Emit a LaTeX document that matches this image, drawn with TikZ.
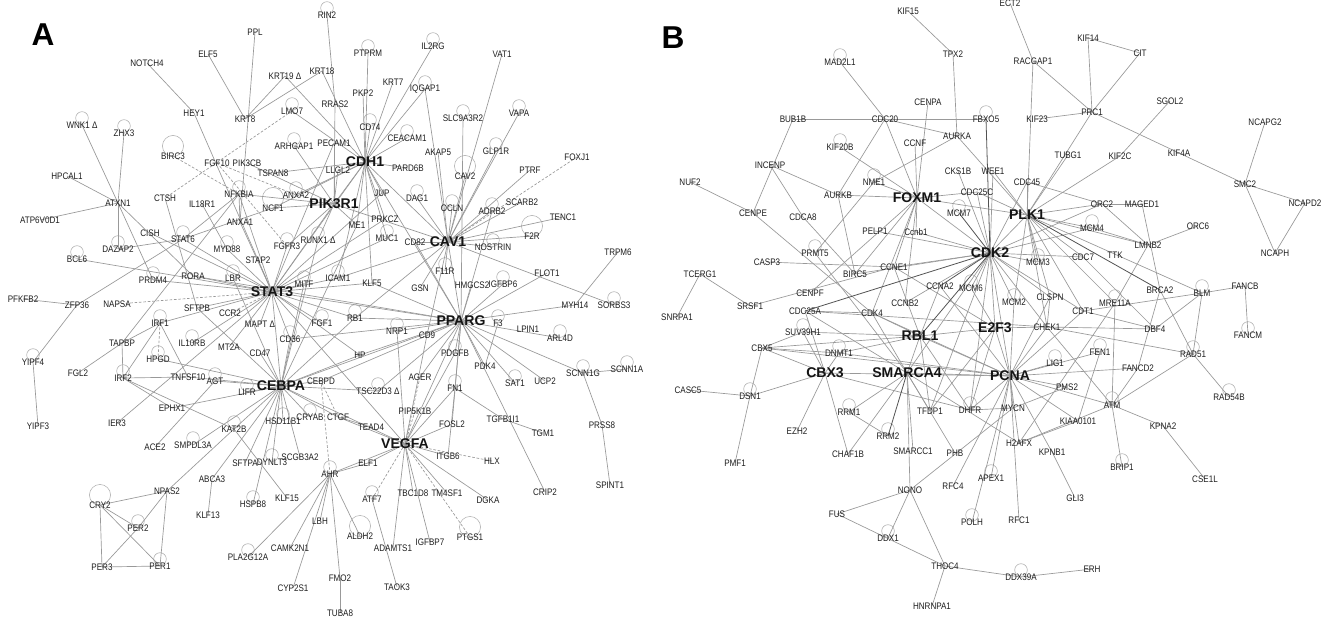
\documentclass[tikz,border=0pt]{standalone}
\usepackage{fontspec}
\newfontfamily\labfont{Liberation Sans}[FakeStretch=0.85]
\newfontfamily\hubfont{Liberation Sans}
\pgfdeclarelayer{bg}
\pgfsetlayers{bg,main}
\tikzset{
 g/.style={font=\labfont\fontsize{5.4}{6}\selectfont, text=black!88, inner sep=0.5pt},
 h/.style={font=\hubfont\bfseries\fontsize{8}{9}\selectfont, text=black!92, inner sep=0.5pt},
 pl/.style={font=\hubfont\bfseries\fontsize{18}{20}\selectfont, inner sep=0pt},
 e/.style={draw=black!40, line width=0.38pt},
 ed/.style={e, dash pattern=on 1.5pt off 1pt},
 ek/.style={draw=black!68, line width=0.45pt},
 lp/.style={draw=black!32, line width=0.3pt},
}
\begin{document}
\begin{tikzpicture}[x=0.02cm,y=-0.02cm]
\useasboundingbox (0,0) rectangle (1331,619);
% panel letters
\node[pl] (LA) at (43,35) {A};
\node[pl] (LB) at (673,38) {B};
% ---------------- Panel A nodes ----------------
\foreach \n/\x/\y/\t in {
RIN2/327/15/RIN2, PPL/255/32/PPL, ELF5/208/54/ELF5, NOTCH4/147/63/NOTCH4,
KRT19/285/76/KRT19 Δ, KRT18/322/71/KRT18, HEY1/194/113/HEY1, KRT8/245/119/KRT8,
LMO7/292/111/LMO7, RRAS2/335/104/RRAS2, WNK1/82/125/WNK1 Δ, ZHX3/124/133/ZHX3,
BIRC3/173/156/BIRC3, ARHGAP1/294/146/ARHGAP1, PECAM1/334/143/PECAM1, HPCAL1/67/176/HPCAL1,
FGF10/217/163/FGF10, PIK3CB/247/163/PIK3CB, TSPAN8/273/173/TSPAN8, LLGL2/338/170/LLGL2,
CTSH/165/198/CTSH, IL18R1/202/204/IL18R1, NFKBIA/239/194/NFKBIA, NCF1/273/208/NCF1,
ANXA2/296/195/ANXA2, ATXN1/118/203/ATXN1, ATP6V0D1/40/220/ATP6V0D1, ANXA1/240/222/ANXA1,
CISH/150/233/CISH, STAT6/183/239/STAT6, DAZAP2/118/249/DAZAP2, MYD88/227/249/MYD88,
STAP2/258/260/STAP2, RUNX1/318/240/RUNX1 Δ, FGFR3/287/246/FGFR3, BCL6/77/259/BCL6,
PRDM4/153/280/PRDM4, RORA/193/276/RORA, LBR/233/278/LBR, MITF/304/284/MITF,
ICAM1/338/278/ICAM1, KLF5/372/283/KLF5, PFKFB2/23/299/PFKFB2, ZFP36/77/305/ZFP36,
NAPSA/117/304/NAPSA, SFTPB/197/308/SFTPB, CCR2/230/313/CCR2, PTPRM/368/53/PTPRM,
IL2RG/433/46/IL2RG, VAT1/502/54/VAT1, KRT7/393/82/KRT7, PKP2/363/93/PKP2,
IQGAP1/425/89/IQGAP1, VAPA/519/113/VAPA, SLC9A3R2/463/118/SLC9A3R2, CD74/370/127/CD74,
CEACAM1/407/138/CEACAM1, AKAP5/438/152/AKAP5, GLP1R/496/151/GLP1R, FOXJ1/577/157/FOXJ1,
PARD6B/408/168/PARD6B, PTRF/530/170/PTRF, CAV2/465/176/CAV2, JUP/382/193/JUP,
DAG1/417/198/DAG1, SCARB2/522/202/SCARB2, OCLN/452/208/OCLN, ADRB2/492/211/ADRB2,
TENC1/563/217/TENC1, PRKCZ/385/219/PRKCZ, ME1/357/225/ME1, F2R/532/236/F2R,
CD82/415/242/CD82, MUC1/387/238/MUC1, NOSTRIN/493/247/NOSTRIN, TRPM6/618/252/TRPM6,
F11R/445/271/F11R, FLOT1/547/273/FLOT1, GSN/420/288/GSN, HMGCS2/472/285/HMGCS2,
IGFBP6/503/284/IGFBP6, MYH14/575/305/MYH14, SORBS3/614/305/SORBS3, RB1/355/318/RB1,
F3/498/323/F3, LPIN1/528/329/LPIN1, ARL4D/560/338/ARL4D, NRP1/397/331/NRP1,
CD9/427/335/CD9, HP/360/355/HP, PDGFB/455/353/PDGFB, PDK4/485/366/PDK4,
SCNN1G/583/373/SCNN1G, SCNN1A/627/369/SCNN1A, AGER/420/377/AGER, SAT1/515/383/SAT1,
UCP2/545/381/UCP2, FN1/455/388/FN1, TSC22D3/378/391/TSC22D3 Δ, PIP5K1B/415/411/PIP5K1B,
CTGF/338/417/CTGF, TEAD4/371/427/TEAD4, FOSL2/452/424/FOSL2, TGFB1I1/503/419/TGFB1I1,
TGM1/543/433/TGM1, PRSS8/602/425/PRSS8, ITGB6/448/456/ITGB6, HLX/492/461/HLX,
ELF1/368/463/ELF1, SPINT1/610/485/SPINT1, CRIP2/545/492/CRIP2, ATF7/372/499/ATF7,
TBC1D8/413/493/TBC1D8, TM4SF1/447/493/TM4SF1, DGKA/488/500/DGKA, ALDH2/360/536/ALDH2,
PTGS1/470/537/PTGS1, IGFBP7/430/542/IGFBP7, ADAMTS1/393/548/ADAMTS1, FMO2/340/578/FMO2,
TAOK3/397/587/TAOK3, TUBA8/340/613/TUBA8, AHR/330/474/AHR, IRF1/160/323/IRF1,
MAPT/260/324/MAPT Δ, FGF1/322/323/FGF1, TAPBP/122/343/TAPBP, IL10RB/192/343/IL10RB,
MT2A/229/347/MT2A, CD36/290/339/CD36, CD47/260/353/CD47, YIPF4/33/362/YIPF4,
HPGD/158/359/HPGD, FGL2/78/373/FGL2, IRF2/123/378/IRF2, TNFSF10/188/377/TNFSF10,
AGT/215/381/AGT, CEBPD/321/381/CEBPD, LIFR/247/392/LIFR, EPHX1/172/408/EPHX1,
IER3/117/423/IER3, YIPF3/38/426/YIPF3, HSD11B1/283/421/HSD11B1, CRYAB/310/417/CRYAB,
KAT2B/234/429/KAT2B, ACE2/155/447/ACE2, SMPDL3A/193/445/SMPDL3A, SFTPA/245/463/SFTPA,
DYNLT3/272/462/DYNLT3, SCGB3A2/300/457/SCGB3A2, ABCA3/212/479/ABCA3, NPAS2/167/491/NPAS2,
CRY2/100/505/CRY2, KLF15/287/498/KLF15, HSPB8/253/504/HSPB8, KLF13/208/515/KLF13,
LBH/320/521/LBH, PER2/138/528/PER2, CAMK2N1/290/548/CAMK2N1, PLA2G12A/248/557/PLA2G12A,
PER3/102/567/PER3, PER1/160/566/PER1, CYP2S1/293/588/CYP2S1}
  \node[g] (\n) at (\x,\y) {\t};
\foreach \n/\x/\y in {CDH1/365/162, PIK3R1/334/204, CAV1/448/242, STAT3/272/292,
PPARG/461/321, CEBPA/281/386, VEGFA/405/444}
  \node[h] (\n) at (\x,\y) {\n};
% ---------------- Panel B nodes ----------------
\foreach \n/\x/\y/\t in {
KIF15/908/11/KIF15, TPX2/953/54/TPX2, MAD2L1/840/62/MAD2L1, CENPA/928/102/CENPA,
BUB1B/793/119/BUB1B, CDC20/885/119/CDC20, FBXO5/986/119/FBXO5, AURKA/957/136/AURKA,
KIF20B/840/147/KIF20B, CCNF/915/143/CCNF, INCENP/770/165/INCENP, CKS1B/958/171/CKS1B,
WEE1/993/171/WEE1, NUF2/690/182/NUF2, NME1/874/182/NME1, AURKB/838/195/AURKB,
CDC25C/977/192/CDC25C, CENPE/753/213/CENPE, CDCA8/803/217/CDCA8, MCM7/959/213/MCM7,
PELP1/875/231/PELP1, Ccnb1/916/232/Ccnb1, PRMT5/815/253/PRMT5, CASP3/767/262/CASP3,
BIRC5/855/274/BIRC5, CCNE1/894/267/CCNE1, TCERG1/700/274/TCERG1, CCNA2/940/286/CCNA2,
MCM6/971/288/MCM6, CENPF/810/293/CENPF, SRSF1/750/306/SRSF1, CCNB2/905/303/CCNB2,
CDC25A/805/311/CDC25A, CDK4/872/313/CDK4, SNRPA1/677/317/SNRPA1, ECT2/1010/3/ECT2,
KIF14/1088/38/KIF14, CIT/1140/53/CIT, RACGAP1/1033/61/RACGAP1, SGOL2/1170/101/SGOL2,
PRC1/1092/112/PRC1, KIF23/1037/119/KIF23, NCAPG2/1265/122/NCAPG2, TUBG1/1068/155/TUBG1,
KIF2C/1120/156/KIF2C, KIF4A/1179/153/KIF4A, CDC45/1027/182/CDC45, SMC2/1245/184/SMC2,
ORC2/1102/204/ORC2, MAGED1/1142/204/MAGED1, NCAPD2/1305/203/NCAPD2, ORC6/1198/226/ORC6,
MCM4/1092/228/MCM4, LMNB2/1148/245/LMNB2, NCAPH/1275/253/NCAPH, MCM3/1038/262/MCM3,
CDC7/1083/257/CDC7, TTK/1115/255/TTK, FANCB/1245/286/FANCB, BRCA2/1160/290/BRCA2,
BLM/1202/293/BLM, MCM2/1014/302/MCM2, CLSPN/1050/297/CLSPN, MRE11A/1115/303/MRE11A,
CDT1/1083/311/CDT1, CHEK1/1047/327/CHEK1, DBF4/1155/329/DBF4, FANCM/1248/335/FANCM,
FEN1/1100/352/FEN1, RAD51/1193/354/RAD51, LIG1/1055/363/LIG1, FANCD2/1138/368/FANCD2,
PMS2/1067/387/PMS2, RAD54B/1229/397/RAD54B, ATM/1112/405/ATM, MYCN/1013/408/MYCN,
KIAA0101/1078/421/KIAA0101, KPNA2/1163/426/KPNA2, H2AFX/1019/443/H2AFX, KPNB1/1052/452/KPNB1,
BRIP1/1122/467/BRIP1, APEX1/991/478/APEX1, CSE1L/1205/479/CSE1L, GLI3/1075/498/GLI3,
RFC1/1019/520/RFC1, ERH/1092/569/ERH, DDX39A/1021/577/DDX39A, SUV39H1/803/332/SUV39H1,
CBX5/762/348/CBX5, DNMT1/839/353/DNMT1, CASC5/688/390/CASC5, DSN1/750/396/DSN1,
RRM1/849/412/RRM1, TFDP1/930/411/TFDP1, DHFR/970/410/DHFR, EZH2/797/431/EZH2,
RRM2/888/436/RRM2, CHAF1B/848/454/CHAF1B, SMARCC1/913/451/SMARCC1, PHB/955/453/PHB,
PMF1/735/463/PMF1, RFC4/953/486/RFC4, NONO/910/490/NONO, FUS/837/514/FUS,
POLH/972/522/POLH, DDX1/888/538/DDX1, THOC4/945/566/THOC4, HNRNPA1/932/606/HNRNPA1}
  \node[g] (\n) at (\x,\y) {\t};
\foreach \n/\x/\y in {FOXM1/917/198, PLK1/1027/215, CDK2/990/253, RBL1/920/336,
E2F3/995/328, CBX3/825/373, SMARCA4/907/373, PCNA/1010/376}
  \node[h] (\n) at (\x,\y) {\n};
% ---------------- connectors ----------------
\begin{pgfonlayer}{bg}
\fill[white] (LA.center) ++(-43,-35) rectangle ++(1331,619);
% self loops
\foreach \n in {RIN2, ZHX3, WNK1, DAZAP2, BCL6, PRDM4, LBR, NFKBIA, STAT6, MYD88, ANXA2, LMO7,
ARHGAP1, CD74, IQGAP1, CEACAM1, SLC9A3R2, VAPA, IL2RG, PTPRM, GLP1R, DAG1, OCLN, ADRB2,
NOSTRIN, SORBS3, F11R, MUC1, ICAM1, FGFR3, RUNX1, MITF, IGFBP6, F3, ARL4D, SAT1, SCNN1G,
SCNN1A, FN1, NRP1, PDGFB, TSC22D3, ATF7, AHR, IRF1, IRF2, HPGD, LIFR, AGT, HSD11B1,
CRYAB, DYNLT3, SMPDL3A, KAT2B, HSPB8, PER2, PER1, YIPF4, PLA2G12A, FGF1, RB1, CD36, IL10RB,
MAD2L1, KIF20B, FBXO5, NME1, PRMT5, MCM7, MCM6, MCM2, MCM4, MCM3, SUV39H1, DNMT1, DSN1,
RRM1, RRM2, DHFR, POLH, APEX1, DDX1, DDX39A, LIG1, FEN1, ATM, MRE11A, BLM, RAD51, RAD54B,
FANCM, BRIP1}
  \draw[lp] (\n.center) ++(0,-7) circle[radius=3.6pt];
\foreach \n in {BIRC3, NCF1, F2R, CRY2, ALDH2, PTGS1, CAV2}
  \draw[lp] (\n.center) ++(0,-10) circle[radius=6pt];
% panel A solid
\foreach \a/\b in {RIN2/RRAS2, RRAS2/PIK3R1, PPL/ANXA1, ELF5/KRT8, KRT8/KRT18, KRT8/KRT19,
KRT19/CDH1, KRT18/CDH1, NOTCH4/HEY1, HEY1/STAT3, LMO7/CDH1, WNK1/ATXN1, ZHX3/ATXN1,
ATXN1/DAZAP2, HPCAL1/ATXN1, ATP6V0D1/ATXN1, ATXN1/PRDM4, ATXN1/RORA, BCL6/STAT3,
PFKFB2/ZFP36, ZFP36/YIPF4, YIPF4/YIPF3, ZFP36/STAT6, DAZAP2/STAT6, CISH/STAT3, STAT6/NFKBIA,
STAT6/STAT3, CTSH/SFTPB, IL18R1/MYD88, NFKBIA/STAT3, NFKBIA/ANXA1, NFKBIA/PIK3R1,
PIK3CB/PIK3R1, TSPAN8/CDH1, ARHGAP1/PIK3R1, PECAM1/PIK3R1, PECAM1/STAT3, LLGL2/CDH1,
LLGL2/PIK3R1, NCF1/STAT6, NCF1/PIK3R1, ANXA2/CDH1, ANXA1/STAT3, MYD88/STAT3, STAP2/STAT3,
RUNX1/CEBPA, RUNX1/PIK3R1, FGFR3/STAT3, FGFR3/PIK3R1, PRDM4/STAT3, RORA/STAT3, RORA/PPARG,
LBR/CEBPA, MITF/STAT3, MITF/CEBPA, ICAM1/STAT3, ICAM1/CAV1, ICAM1/CDH1, KLF5/PPARG,
KLF5/CDH1, SFTPB/STAT3, SFTPB/CEBPA, IRF1/STAT3, IRF1/TAPBP, IRF1/IRF2, IRF1/TNFSF10,
TAPBP/IRF2, FGL2/TAPBP, TAPBP/NFKBIA, IRF2/TNFSF10, IRF2/KAT2B, IL10RB/STAT3, HPGD/CEBPA,
MT2A/STAT3, MAPT/STAT3, CD36/PPARG, CD36/CEBPA, CD47/CEBPA, FGF1/STAT3, RB1/CEBPA,
RB1/STAT3, RB1/PPARG, RB1/CAV1, NRP1/VEGFA, NRP1/PPARG, CD9/VEGFA, CD9/CAV1, HP/CEBPA,
HP/STAT3, HP/PPARG, AGER/PPARG, PDGFB/PPARG, PDGFB/VEGFA, TSC22D3/CEBPA, TSC22D3/PPARG,
FN1/VEGFA, FN1/PPARG, FN1/TGFB1I1, FN1/ITGB6, FOSL2/VEGFA, FOSL2/PPARG, TGFB1I1/TGM1,
PDK4/PPARG, SAT1/PPARG, UCP2/PPARG, SCNN1G/PPARG, SCNN1G/SCNN1A, SCNN1G/PRSS8,
PRSS8/SPINT1, F3/PDK4, PPARG/ARL4D, MYH14/PPARG, MYH14/TRPM6, CAV1/SORBS3, FLOT1/PPARG,
CRIP2/PPARG, ITGB6/VEGFA, DGKA/VEGFA, TM4SF1/VEGFA, TBC1D8/VEGFA, IGFBP7/VEGFA,
ADAMTS1/VEGFA, ATF7/TAOK3, ELF1/VEGFA, ELF1/AHR, ALDH2/AHR, AHR/FMO2, FMO2/TUBA8, AHR/LBH,
AHR/CYP2S1, AHR/PLA2G12A, AHR/CAMK2N1, AHR/VEGFA, CTGF/VEGFA, CTGF/CEBPA, TEAD4/CTGF,
KAT2B/KLF15, KAT2B/CEBPA, KAT2B/NPAS2, ABCA3/KLF13, ABCA3/CEBPA, HSPB8/CEBPA, SFTPA/CEBPA,
DYNLT3/CEBPA, SCGB3A2/CEBPA, HSD11B1/CEBPA, CRYAB/CEBPA, ACE2/AGT, EPHX1/IRF2, EPHX1/CEBPA,
IER3/STAT3, AGT/CEBPA, LIFR/CEBPA, TNFSF10/CEBPA, CEBPD/CEBPA, CEBPD/PPARG, NPAS2/CRY2,
NPAS2/PER2, NPAS2/PER1, CRY2/PER2, CRY2/PER1, CRY2/PER3, PER3/PER1, PER3/PER2,
PTPRM/CDH1, PKP2/CDH1, KRT7/CDH1, IL2RG/CDH1, IQGAP1/CDH1, IQGAP1/CAV1, CD74/CDH1,
CEACAM1/CDH1, AKAP5/CAV1, PARD6B/CDH1, JUP/CDH1, DAG1/CAV1, PRKCZ/CDH1, ME1/PIK3R1,
ME1/CDH1, MUC1/CDH1, CD82/CAV1, VAT1/CAV1, SLC9A3R2/PPARG, VAPA/CAV1, GLP1R/CAV1,
PTRF/CAV1, CAV2/CAV1, SCARB2/CAV1, ADRB2/CAV1, ADRB2/PPARG, OCLN/CAV1, TENC1/CAV1,
F2R/CAV1, NOSTRIN/CAV1, F11R/CAV1, GSN/CAV1, HMGCS2/PPARG, IGFBP6/PPARG, PIK3R1/CDH1,
PIK3R1/STAT3, PIK3R1/CAV1, CDH1/CAV1, STAT3/CEBPA, STAT3/PPARG, CEBPA/PPARG, VEGFA/PPARG,
VEGFA/CEBPA, VEGFA/STAT3, CAV1/PPARG, CDH1/STAT3, CDH1/PPARG, PRKCZ/STAT3, MUC1/STAT3,
NCF1/CDH1, JUP/STAT3, ME1/CEBPA, KLF5/STAT3, CD82/PPARG, CD36/STAT3, SMPDL3A/CEBPA}
  \draw[e] (\a.center) -- (\b.center);
% panel A dashed
\foreach \a/\b in {LMO7/CTSH, BIRC3/NFKBIA, FGF10/ANXA2, FOXJ1/CAV1, HLX/VEGFA, PTGS1/VEGFA,
ATF7/VEGFA, AHR/CEBPD, PIP5K1B/VEGFA, AGER/VEGFA, NAPSA/STAT3, CCR2/STAT3, IRF1/HPGD,
FGF10/FGFR3, CTGF/CEBPD}
  \draw[ed] (\a.center) -- (\b.center);
% panel B solid
\foreach \a/\b in {KIF15/TPX2, TPX2/AURKA, ECT2/RACGAP1, RACGAP1/PRC1, KIF14/CIT, KIF14/PRC1,
CIT/PRC1, RACGAP1/PLK1, KIF23/PRC1, PRC1/PLK1, PRC1/KIF4A, KIF4A/SMC2, SGOL2/KIF2C,
KIF2C/PLK1, TUBG1/PLK1, NCAPG2/SMC2, SMC2/NCAPD2, SMC2/NCAPH, NCAPD2/NCAPH, CDC45/PLK1,
CDC45/ORC2, CDC45/CDK2, ORC2/MAGED1, PLK1/ORC2, ORC2/LMNB2, MAGED1/BRCA2, ORC6/LMNB2,
LMNB2/MCM4, LMNB2/PLK1, LMNB2/MRE11A, PLK1/BLM, BLM/FANCB, FANCB/FANCM, BLM/RAD51, BLM/DBF4,
BLM/CDT1, WEE1/CDK2, CKS1B/CDK2, CDC25C/CDK2, CDC25C/PLK1, WEE1/PLK1, MAD2L1/CDC20,
CDC20/FOXM1, BUB1B/CDC20, CDC20/FBXO5, BUB1B/CENPE, CDC20/AURKA, CDC20/AURKB,
CENPA/FOXM1, AURKA/NME1, AURKA/PLK1, KIF20B/FOXM1, CCNF/FOXM1, INCENP/AURKB, INCENP/CDCA8,
CDCA8/BIRC5, NUF2/CENPE, CENPE/CDK4, AURKB/FOXM1, AURKB/BIRC5, NME1/PRMT5, NME1/FOXM1,
FOXM1/Ccnb1, FOXM1/CCNE1, FOXM1/PLK1, FOXM1/CDK4, FOXM1/BIRC5, FOXM1/CCNB2, FOXM1/CDC25C,
FOXM1/CDK2, PELP1/CDK2, CASP3/CCNE1, TCERG1/SRSF1, TCERG1/SNRPA1, SRSF1/CCNE1, CENPF/FOXM1,
CDC25A/CDK4, CDK2/CCNE1, CDK2/MCM6, CDK2/MCM3, CDK2/MCM2, CDK2/MCM4, CDK2/CDC7,
CDK2/CDT1, CDK2/CHEK1, CDK2/E2F3, CDK2/PCNA, CDK2/CCNB2, CDK2/Ccnb1, CDK2/BIRC5,
CDK2/SMARCA4, CDK2/DHFR, CDK2/TFDP1, CDK2/CLSPN, CDK2/ORC2, PLK1/MCM4, PLK1/MCM3,
PLK1/CDC7, PLK1/CLSPN, PLK1/MCM2, PLK1/CDK2, PLK1/CDT1, PLK1/MRE11A, PLK1/CHEK1,
RBL1/SUV39H1, RBL1/CDK4, RBL1/CCNE1, RBL1/PCNA, RBL1/E2F3, RBL1/DHFR, RBL1/TFDP1,
RBL1/CCNA2, RBL1/DNMT1, RBL1/SMARCA4, E2F3/PCNA, E2F3/TFDP1, E2F3/DHFR, E2F3/MCM6,
E2F3/CCNE1, E2F3/CHEK1, SMARCA4/RRM1, SMARCA4/CHAF1B, SMARCA4/NONO,
SMARCA4/TFDP1, SMARCA4/SMARCC1, SMARCA4/PHB, SMARCA4/PCNA, SMARCA4/CDC25A, SMARCA4/H2AFX,
SMARCA4/CDK4, CBX3/CBX5, CBX3/SUV39H1, CBX3/DSN1, CBX3/EZH2, CBX3/CHAF1B, CBX3/DHFR,
CBX3/CDC25A, CBX3/DNMT1, CBX3/PCNA, CBX5/SUV39H1, CBX5/DSN1, CBX5/PCNA, CBX5/DNMT1,
CASC5/DSN1, DSN1/PMF1, RRM1/RRM2, NONO/FUS, NONO/DDX1, NONO/THOC4, NONO/MYCN, FUS/THOC4,
THOC4/HNRNPA1, THOC4/DDX39A, DDX39A/ERH, PCNA/LIG1, PCNA/FEN1, PCNA/PMS2, PCNA/MYCN,
PCNA/H2AFX, PCNA/APEX1, PCNA/RFC1, PCNA/RFC4, PCNA/POLH, PCNA/KIAA0101, PCNA/CHEK1,
PCNA/CDT1, PCNA/ATM, PCNA/FANCD2, PCNA/DHFR, PCNA/CDK4, PCNA/CCNA2, PCNA/MCM2, PCNA/DNMT1,
PCNA/KPNB1, PCNA/CLSPN, ATM/KPNA2, ATM/BRIP1, ATM/FANCD2, ATM/RAD51, ATM/H2AFX, ATM/CHEK1,
ATM/MRE11A, KPNA2/CSE1L, RAD51/RAD54B, RAD51/BRCA2, RAD51/CHEK1, FANCD2/BRCA2, DBF4/CDC7,
DBF4/CHEK1, DBF4/CDT1, KPNB1/GLI3, KIAA0101/H2AFX, FEN1/KIAA0101, CHEK1/CLSPN,
CHEK1/CDC25A, MYCN/DHFR, PMS2/MYCN, MRE11A/H2AFX, CBX5/RBL1, PRMT5/SMARCA4}
  \draw[e] (\a.center) -- (\b.center);
% panel B dark
\foreach \a/\b in {CDK2/CDC25A, CDK2/CCNA2, FBXO5/CDK2, PLK1/BRCA2, CDK2/MCM7, SMARCA4/RRM2,
RBL1/CDK2}
  \draw[ek] (\a.center) -- (\b.center);
\end{pgfonlayer}
\end{tikzpicture}
\end{document}
